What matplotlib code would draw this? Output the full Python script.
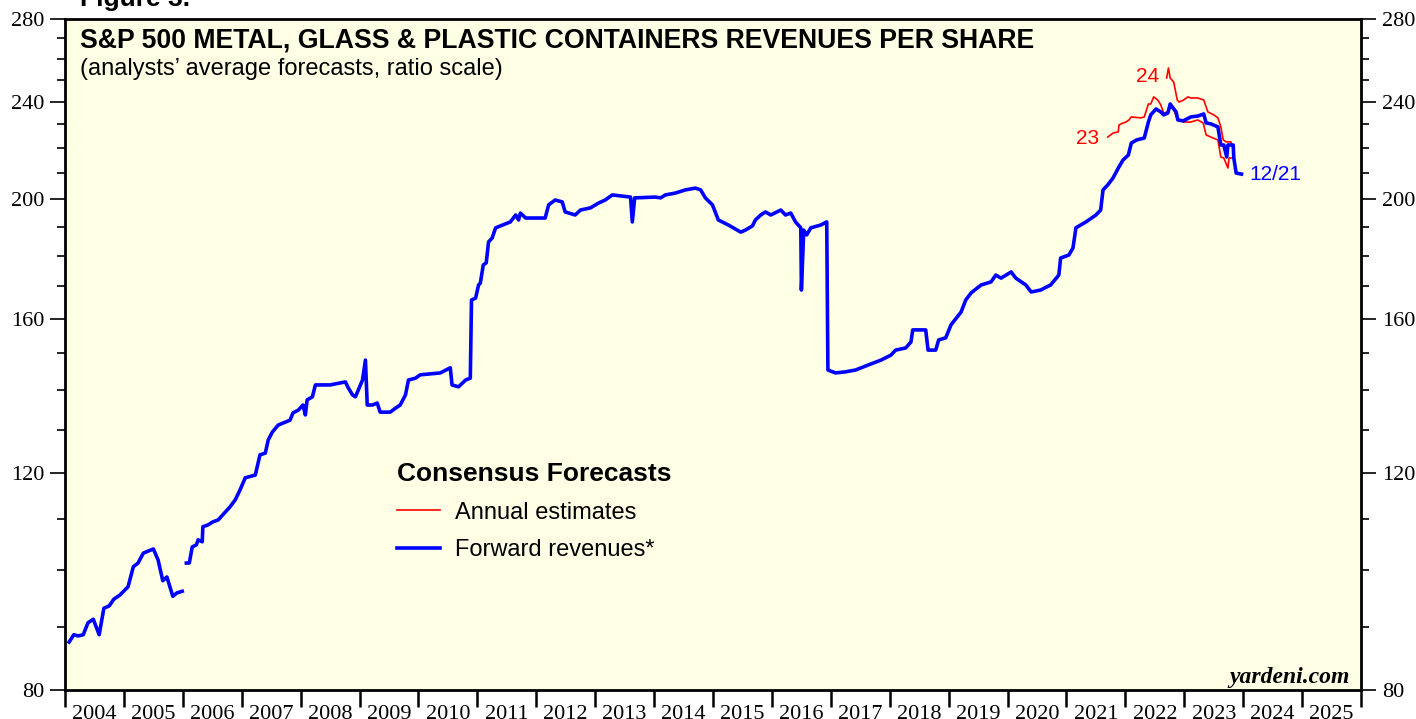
import numpy as np
import matplotlib
matplotlib.use("Agg")
import matplotlib.pyplot as plt
from matplotlib.ticker import FixedLocator, NullFormatter, FixedFormatter
from matplotlib.lines import Line2D

# forward revenues per share (weekly-ish trace), gap in early 2006
fwd_years = [2004.07, 2004.15, 2004.22, 2004.31, 2004.39, 2004.48, 2004.58, 2004.66,
             2004.75, 2004.83, 2004.93, 2005.07, 2005.16, 2005.24, 2005.33, 2005.50,
             2005.58, 2005.66, 2005.73, 2005.83, 2005.90, 2005.99, 2006.02,
             2006.06, 2006.11, 2006.16, 2006.23, 2006.26, 2006.33, 2006.34, 2006.43,
             2006.51, 2006.60, 2006.72, 2006.80, 2006.89, 2006.97, 2007.06, 2007.23,
             2007.31, 2007.40, 2007.45, 2007.52, 2007.62, 2007.82, 2007.87, 2007.96,
             2008.04, 2008.08, 2008.11, 2008.20, 2008.25, 2008.50, 2008.76, 2008.81,
             2008.88, 2008.93, 2008.98, 2009.05, 2009.10, 2009.13, 2009.22, 2009.30,
             2009.35, 2009.52, 2009.61, 2009.69, 2009.78, 2009.83, 2009.95, 2010.03,
             2010.37, 2010.54, 2010.57, 2010.68, 2010.80, 2010.88, 2010.90, 2010.97,
             2011.02, 2011.05, 2011.10, 2011.15, 2011.19, 2011.25, 2011.31, 2011.56,
             2011.65, 2011.70, 2011.73, 2011.82, 2012.15, 2012.21, 2012.32, 2012.44,
             2012.49, 2012.66, 2012.75, 2012.92, 2013.06, 2013.17, 2013.29, 2013.60,
             2013.63, 2013.67, 2014.02, 2014.11, 2014.19, 2014.36, 2014.53, 2014.70,
             2014.79, 2014.87, 2014.99, 2015.09, 2015.26, 2015.47, 2015.55, 2015.67,
             2015.72, 2015.81, 2015.89, 2015.98, 2016.15, 2016.23, 2016.32, 2016.40,
             2016.49, 2016.50, 2016.54, 2016.59, 2016.66, 2016.83, 2016.93, 2016.95,
             2017.08, 2017.25, 2017.42, 2017.64, 2017.85, 2018.02, 2018.10, 2018.27,
             2018.36, 2018.39, 2018.61, 2018.65, 2018.78, 2018.83, 2018.95, 2019.04,
             2019.21, 2019.29, 2019.38, 2019.55, 2019.72, 2019.80, 2019.89, 2020.06,
             2020.14, 2020.31, 2020.40, 2020.56, 2020.73, 2020.87, 2020.90, 2021.04,
             2021.11, 2021.16, 2021.33, 2021.50, 2021.58, 2021.62, 2021.70, 2021.79,
             2021.88, 2021.96, 2022.05, 2022.10, 2022.19, 2022.32, 2022.39, 2022.43,
             2022.52, 2022.60, 2022.65, 2022.72, 2022.76, 2022.81, 2022.86, 2022.89,
             2022.98, 2023.11, 2023.23, 2023.33, 2023.37, 2023.45, 2023.57, 2023.62,
             2023.67, 2023.72, 2023.74, 2023.83, 2023.84, 2023.88, 2023.97]
fwd_vals = [87.5, 88.7, 88.5, 88.7, 90.7, 91.3, 88.7, 93.2,
            93.6, 94.8, 95.5, 97.0, 100.7, 101.4, 103.3, 104.1,
            102.0, 98.1, 98.8, 95.3, 95.9, 96.2, np.nan,
            101.4, 101.4, 104.5, 104.9, 105.9, 105.5, 108.5, 108.9,
            109.5, 109.9, 111.5, 112.6, 114.1, 116.2, 118.9, 119.5,
            124.1, 124.5, 127.6, 129.5, 131.2, 132.4, 134.2, 134.9,
            136.2, 133.7, 137.5, 138.3, 141.4, 141.4, 142.2, 140.6,
            138.8, 138.3, 140.1, 142.7, 148.1, 136.2, 136.2, 136.7,
            134.4, 134.4, 135.4, 136.2, 138.8, 142.7, 143.2, 144.1,
            144.6, 146.0, 141.4, 140.9, 142.7, 143.2, 165.7, 166.3,
            170.4, 171.0, 176.9, 177.6, 184.7, 186.0, 189.6, 191.7,
            194.2, 192.4, 194.9, 193.1, 193.1, 197.9, 199.7, 199.0,
            195.3, 194.2, 196.0, 196.8, 198.6, 199.7, 201.6, 200.8,
            191.7, 200.5, 200.8, 200.5, 201.6, 202.3, 203.5, 204.2,
            203.5, 200.5, 197.9, 192.4, 190.6, 188.1, 188.8, 190.3,
            192.4, 194.2, 195.3, 194.2, 196.0, 194.2, 194.9, 191.7,
            189.6, 168.8, 188.8, 187.1, 189.6, 190.6, 191.7, 145.4,
            144.6, 144.9, 145.4, 146.8, 148.1, 149.5, 150.9, 151.5,
            153.2, 156.7, 156.7, 150.9, 150.9, 153.8, 154.4, 158.2,
            162.0, 165.7, 167.9, 170.4, 171.4, 173.6, 172.6, 174.6,
            172.6, 170.4, 168.2, 168.8, 170.4, 173.6, 179.2, 180.2,
            182.6, 189.6, 191.7, 194.2, 196.0, 203.5, 205.4, 208.1,
            212.0, 215.2, 217.2, 222.1, 223.4, 224.2, 231.0, 234.1,
            236.7, 235.4, 234.1, 234.9, 238.9, 237.1, 235.4, 231.9,
            231.5, 233.2, 233.6, 234.5, 230.6, 230.2, 228.9, 221.3,
            221.3, 216.4, 221.3, 221.3, 216.0, 210.0, 209.6]

# annual estimates: 2023
est23_years = [2021.70, 2021.79, 2021.88, 2021.89, 2021.96, 2022.01, 2022.06, 2022.10,
               2022.26, 2022.32, 2022.39, 2022.43, 2022.48, 2022.55, 2022.60, 2022.65,
               2022.72, 2022.77, 2022.82, 2022.89, 2022.99, 2023.11, 2023.23, 2023.32,
               2023.37, 2023.45, 2023.57, 2023.62, 2023.67, 2023.74, 2023.76, 2023.83]
est23_vals = [224.6, 226.3, 226.8, 229.7, 230.6, 231.0, 231.9, 233.2,
              232.8, 233.2, 238.9, 238.9, 242.1, 240.7, 238.5, 234.9,
              235.4, 237.6, 236.3, 231.9, 231.0, 231.0, 231.9, 230.6,
              225.5, 224.6, 223.4, 216.4, 216.0, 212.0, 216.0, 216.0]

# annual estimates: 2024
est24_years = [2022.70, 2022.73, 2022.76, 2022.82, 2022.88, 2022.91, 2022.99, 2023.06,
               2023.11, 2023.23, 2023.33, 2023.40, 2023.50, 2023.57, 2023.62, 2023.66,
               2023.71, 2023.79, 2023.83, 2023.84, 2023.88]
est24_vals = [250.8, 255.5, 250.8, 248.9, 240.7, 239.8, 240.7, 242.1,
              241.6, 241.6, 240.7, 235.4, 234.1, 232.8, 228.9, 223.4,
              222.6, 222.6, 219.3, 215.2, 210.4]

year_labels = [str(y) for y in range(2004, 2026)]
y_major = [80, 120, 160, 200, 240, 280]
y_minor = list(range(80, 281, 10))

RED = "#ff0000"
BLUE = "#0000ff"
BG = "#ffffe6"

fig = plt.figure(figsize=(14.16, 7.19), dpi=100)
ax = fig.add_axes([0.0459, 0.0403, 0.9153, 0.9333])
ax.set_facecolor(BG)

ax.plot(est23_years, est23_vals, color=RED, lw=1.2)
ax.plot(est24_years, est24_vals, color=RED, lw=1.2)
ax.plot(fwd_years, fwd_vals, color=BLUE, lw=2.6)

ax.set_yscale("log")
ax.set_ylim(80, 280)
ax.set_xlim(2004, 2026)

ax.yaxis.set_major_locator(FixedLocator(y_major))
ax.yaxis.set_major_formatter(FixedFormatter([str(v) for v in y_major]))
ax.yaxis.set_minor_locator(FixedLocator(y_minor))
ax.yaxis.set_minor_formatter(NullFormatter())

ax.xaxis.set_major_locator(FixedLocator(range(2004, 2027)))
ax.xaxis.set_major_formatter(NullFormatter())
ax.xaxis.set_minor_locator(FixedLocator([y + 0.5 for y in range(2004, 2026)]))
ax.xaxis.set_minor_formatter(FixedFormatter(year_labels))

for s in ax.spines.values():
    s.set_linewidth(2.0)

ax.tick_params(axis="y", which="major", direction="out", length=11, width=1.2,
               left=True, right=True, labelleft=True, labelright=True,
               labelsize=16, pad=4, labelfontfamily="Liberation Serif")
ax.tick_params(axis="y", which="minor", direction="out", length=5.5, width=1.2,
               left=True, right=True)
ax.tick_params(axis="x", which="major", direction="out", length=12, width=1.8)
ax.tick_params(axis="x", which="minor", length=0, pad=11, labelsize=16,
               labelfontfamily="Liberation Serif")

ax.text(0.0116, 0.958, "S&P 500 METAL, GLASS & PLASTIC CONTAINERS REVENUES PER SHARE",
        transform=ax.transAxes, fontsize=19.2, fontweight="bold",
        family="Liberation Sans", va="baseline", ha="left")
ax.text(0.0116, 0.9165, "(analysts\u2019 average forecasts, ratio scale)",
        transform=ax.transAxes, fontsize=17, family="Liberation Sans",
        va="baseline", ha="left")
fig.text(0.0565, 0.991, "Figure 3.", fontsize=19, fontweight="bold",
         family="Liberation Sans", va="baseline", ha="left")

ax.text(2022.57, 251.3, "24", color=RED, fontsize=15, family="Liberation Sans",
        ha="right", va="center")
ax.text(2021.55, 224.2, "23", color=RED, fontsize=15, family="Liberation Sans",
        ha="right", va="center")
ax.text(2024.10, 209.6, "12/21", color=BLUE, fontsize=15, family="Liberation Sans",
        ha="left", va="center")

ax.text(0.9915, 0.0104, "yardeni.com", transform=ax.transAxes, fontsize=17,
        family="Liberation Serif", fontweight="bold", style="italic",
        ha="right", va="baseline")

handles = [Line2D([], [], color=RED, lw=1.2), Line2D([], [], color=BLUE, lw=2.6)]
leg = ax.legend(handles, ["Annual estimates", "Forward revenues*"],
                title="Consensus Forecasts", loc="upper left",
                bbox_to_anchor=(0.2562, 0.3398), frameon=False,
                prop={"family": "Liberation Sans", "size": 17},
                title_fontproperties={"family": "Liberation Sans", "size": 19,
                                      "weight": "bold"},
                handlelength=1.82, handletextpad=0.64, labelspacing=0.66,
                alignment="left", borderpad=0, borderaxespad=0)

fig.savefig("out.png", dpi=100, facecolor="white")
